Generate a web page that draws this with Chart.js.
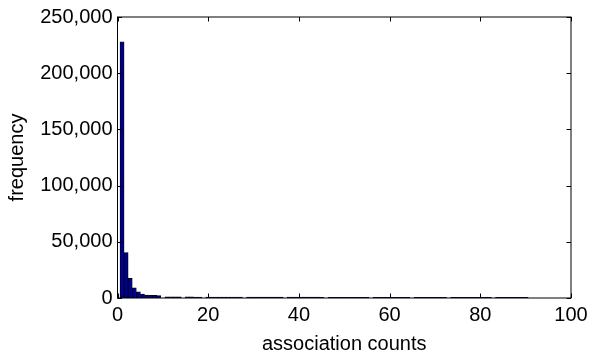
<!DOCTYPE html>
<html>
<head>
<meta charset="utf-8">
<script src="https://cdn.jsdelivr.net/npm/chart.js@4/dist/chart.umd.min.js"></script>
<style>
  html, body { margin: 0; padding: 0; background: #fff; }
  #histChart { display: block; }
</style>
</head>
<body>
<canvas id="histChart" width="594" height="358"></canvas>
<script>
// histogram bins: first centre and width (in association counts)
const binStart = 1;
const binWidth = 0.9;

// frequency per bin (100 bins)
const binCounts = [
    228000, 40400, 17400, 9100, 5600, 3500, 2500, 2400, 2300, 2200,
    0, 1100, 1050, 1000, 980, 0, 950, 930, 900, 900,
    0, 880, 870, 860, 850, 840, 830, 820, 810, 800,
    0, 800, 790, 780, 780, 770, 760, 760, 750, 750,
    0, 740, 740, 730, 730, 720, 720, 710, 710, 700,
    0, 700, 700, 690, 690, 680, 680, 670, 670, 660,
    660, 0, 660, 650, 650, 640, 640, 640, 630, 630,
    630, 0, 620, 620, 620, 610, 610, 600, 600, 600,
    0, 600, 590, 590, 590, 580, 580, 580, 570, 570,
    570, 0, 560, 560, 560, 550, 550, 550, 540, 540
];

const xTicks = [0, 20, 40, 60, 80, 100];
const yTicks = [0, 50000, 100000, 150000, 200000, 250000];

const xTitle = 'association counts';
const yTitle = 'frequency';

const points = binCounts.map((c, i) => ({ x: +(binStart + i * binWidth).toFixed(2), y: c }));

const fontFamily = "'Liberation Sans', Arial, Helvetica, sans-serif";

// box round the plot + inward ticks on all four sides, like the matlab axes
const boxAndTicks = {
    id: 'boxAndTicks',
    afterDraw(chart) {
        const { ctx, chartArea: a, scales } = chart;
        const len = 4.5;
        ctx.save();
        ctx.strokeStyle = '#000';
        ctx.lineWidth = 1;
        ctx.beginPath();
        xTicks.forEach(v => {
            const px = Math.round(scales.x.getPixelForValue(v)) + 0.5;
            ctx.moveTo(px, a.bottom); ctx.lineTo(px, a.bottom - len);
            ctx.moveTo(px, a.top); ctx.lineTo(px, a.top + len);
        });
        yTicks.forEach(v => {
            const py = Math.round(scales.y.getPixelForValue(v)) + 0.5;
            ctx.moveTo(a.left, py); ctx.lineTo(a.left + len, py);
            ctx.moveTo(a.right, py); ctx.lineTo(a.right - len, py);
        });
        ctx.stroke();
        ctx.strokeRect(a.left, a.top, a.right - a.left, a.bottom - a.top);
        ctx.restore();
    }
};

new Chart(document.getElementById('histChart').getContext('2d'), {
    type: 'bar',
    data: {
        datasets: [{
            data: points,
            backgroundColor: '#00008f',
            borderColor: '#000',
            borderWidth: 0.8,
            barPercentage: 1,
            categoryPercentage: 1
        }]
    },
    options: {
        responsive: false,
        devicePixelRatio: 1,
        animation: false,
        layout: { padding: { left: 0, right: 23, top: 15, bottom: 0 } },
        plugins: { legend: { display: false }, tooltip: { enabled: false } },
        scales: {
            x: {
                type: 'linear',
                min: 0,
                max: 100,
                offset: false,
                grid: { display: false, drawTicks: false },
                border: { display: false },
                afterBuildTicks: (s) => { s.ticks = xTicks.map(v => ({ value: v })); },
                afterFit: (s) => { s.height = 60; },
                ticks: { color: '#000', padding: 5, maxRotation: 0, font: { family: fontFamily, size: 20 } },
                title: { display: true, text: xTitle, color: '#000', padding: { top: 0, bottom: 2 }, font: { family: fontFamily, size: 20 } }
            },
            y: {
                min: 0,
                max: 250000,
                grid: { display: false, drawTicks: false },
                border: { display: false },
                afterBuildTicks: (s) => { s.ticks = yTicks.map(v => ({ value: v })); },
                afterFit: (s) => { s.width = 117.5; },
                ticks: {
                    color: '#000',
                    padding: 5,
                    font: { family: fontFamily, size: 20 },
                    callback: (v) => v.toLocaleString('en-US')
                },
                title: { display: true, text: yTitle, color: '#000', padding: { top: 5, bottom: 0 }, font: { family: fontFamily, size: 20 } }
            }
        }
    },
    plugins: [boxAndTicks]
});
</script>
</body>
</html>
